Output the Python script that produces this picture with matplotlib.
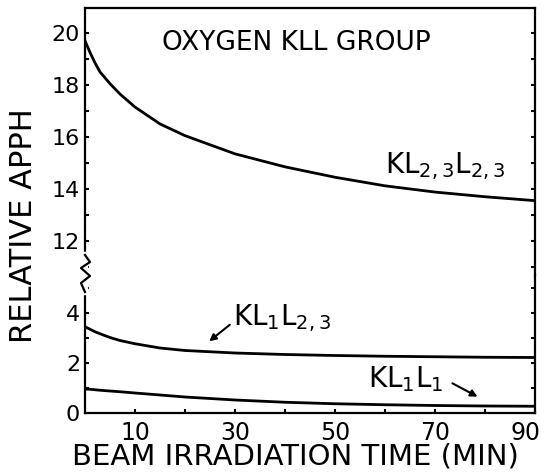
import numpy as np
import matplotlib
matplotlib.use("Agg")
import matplotlib.pyplot as plt
from matplotlib.transforms import ScaledTranslation

# values
t = [0, 1, 2, 3, 5, 7, 10, 15, 20, 30, 40, 50, 60, 70, 80, 90]
kl23l23 = [19.7, 19.25, 18.85, 18.5, 18.05, 17.65, 17.15, 16.5, 16.05, 15.35,
           14.85, 14.45, 14.12, 13.88, 13.7, 13.55]
kl1l23 = [3.45, 3.35, 3.25, 3.17, 3.02, 2.9, 2.77, 2.6, 2.5, 2.4, 2.34, 2.3,
          2.27, 2.25, 2.23, 2.22]
kl1l1 = [0.96, 0.95, 0.93, 0.91, 0.88, 0.85, 0.8, 0.72, 0.64, 0.52, 0.43,
         0.37, 0.33, 0.3, 0.28, 0.27]

xticks = [10, 30, 50, 70, 90]
yticks_low = [0, 2, 4]
yticks_up = [12, 14, 16, 18, 20]

plt.rcParams['font.family'] = 'DejaVu Sans'
fig = plt.figure(figsize=(5.47, 4.75), dpi=100)

L, W = 85/547, 450/547
ax_lo = fig.add_axes([L, 62/475, W, 138/475])
ax_up = fig.add_axes([L, 200/475, W, 267/475], sharex=ax_lo)

for ax in (ax_lo, ax_up):
    for s in ax.spines.values():
        s.set_linewidth(1.6)
    ax.tick_params(direction='in', length=3, width=1.5, labelsize=16,
                   which='both', right=True, top=False)
    ax.set_xlim(0, 90)

ax_up.plot(t, kl23l23, color='black', lw=2)
ax_lo.plot(t, kl1l23, color='black', lw=2)
ax_lo.plot(t, kl1l1, color='black', lw=2)

ax_lo.set_ylim(0, 5.52)
ax_up.set_ylim(10.69, 20.96)
ax_lo.set_yticks(yticks_low)
ax_lo.set_yticks(np.arange(0, 6), minor=True)
ax_up.set_yticks(yticks_up)
ax_up.set_yticks(np.arange(11, 21), minor=True)
ax_lo.set_xticks(xticks)
ax_lo.set_xticks(np.arange(10, 90, 10), minor=True)
ax_lo.tick_params(axis='x', pad=6, labelsize=17)
ax_up.tick_params(axis='x', which='both', bottom=False, top=False,
                  labelbottom=False)
ax_up.spines['bottom'].set_visible(False)
ax_lo.spines['top'].set_visible(False)

# last x label sits left of its tick, as in the reference
lab90 = ax_lo.get_xticklabels()[-1]
lab90.set_horizontalalignment('right')
lab90.set_transform(lab90.get_transform() +
                    ScaledTranslation(6/100, 0, fig.dpi_scale_trans))

# axis break mark on left spine
xb = L
zx = np.array([0, 5, -4, 5, -4, 0]) / 547
zy = 1 - np.array([255, 262, 268, 276, 283, 292]) / 475
fig.add_artist(plt.Rectangle((xb - 2/547, 1 - 294/475), 4/547, 42/475,
                             transform=fig.transFigure, color='white', zorder=5))
fig.add_artist(plt.Line2D(xb + zx, zy, transform=fig.transFigure,
                          color='black', lw=1.6, zorder=6))

# labels
ax_up.text(15.4, 19.35, 'OXYGEN KLL GROUP', fontsize=19)
ax_up.text(60, 14.6, r'$\mathregular{KL_{2,3}L_{2,3}}$', fontsize=20)
ax_lo.text(29.6, 3.52, r'$\mathregular{KL_{1}L_{2,3}}$', fontsize=20)
ax_lo.text(56.6, 1.04, r'$\mathregular{KL_{1}L_{1}}$', fontsize=20)
ax_lo.annotate('', xy=(24.4, 2.8), xytext=(29.4, 3.6),
               arrowprops=dict(arrowstyle='-|>', color='black', lw=1.5,
                               mutation_scale=10))
ax_lo.annotate('', xy=(79, 0.6), xytext=(73, 1.24),
               arrowprops=dict(arrowstyle='-|>', color='black', lw=1.5,
                               mutation_scale=10))

fig.text(24/547, 1 - 226/475, 'RELATIVE APPH', rotation=90, fontsize=22,
         ha='center', va='center')
fig.text(295/547, 1 - 457/475, 'BEAM IRRADIATION TIME (MIN)', fontsize=21,
         ha='center', va='center')

fig.savefig('out.png', dpi=100)
